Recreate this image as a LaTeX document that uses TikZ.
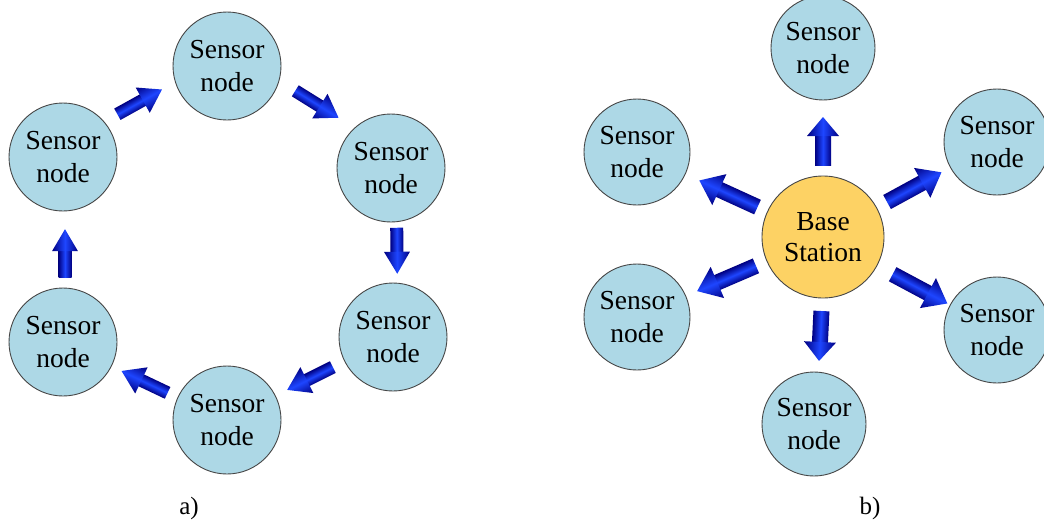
\documentclass[tikz,border=0pt]{standalone}
\usepackage{fontspec}
\setmainfont{Liberation Serif}
\usetikzlibrary{calc}

\definecolor{nodeblue}{RGB}{173,216,230}
\definecolor{stationgold}{RGB}{253,210,100}
\definecolor{nodeline}{RGB}{70,70,70}
\definecolor{arrowdark}{RGB}{0,0,130}
\definecolor{arrowlight}{RGB}{30,70,255}

\tikzset{
  sensor/.style={circle, draw=nodeline, line width=0.9pt, fill=nodeblue,
    minimum size=#1, inner sep=0pt, align=center,
    font=\fontsize{27.5}{32.5}\selectfont},
  sensor/.default=108pt,
  station/.style={sensor=122pt, fill=stationgold,
    font=\fontsize{27.5}{31}\selectfont},
  caption/.style={font=\fontsize{25}{28}\selectfont, inner sep=0pt},
  shaftshade/.style={top color=arrowdark, bottom color=arrowdark, middle color=arrowlight},
}

% Block arrow placed on the line from node #1 to node #2.
% #3 position along the line (fraction or distance), #4 sideways offset,
% #5 total length, #6 shaft half width, #7 head half width, #8 head length
\newcommand\flowarrow[8]{%
  \coordinate (fc) at ($(#1)!#3!(#2)!#4!90:(#2)$);
  \pgfmathanglebetweenpoints{\pgfpointanchor{#1}{center}}{\pgfpointanchor{#2}{center}}%
  \global\let\flowang\pgfmathresult
  \begin{scope}[transform canvas={shift={(fc)}, rotate=\flowang}]
    \shade[shaftshade]
      (-#5/2, -#6) rectangle (#5/2-#8+0.6pt, #6);
    \shade[shaftshade]
      (#5/2-#8, #7) -- (#5/2, 0pt) -- (#5/2-#8, -#7) -- cycle;
  \end{scope}
}

\begin{document}
\begin{tikzpicture}[x=1pt, y=-1pt]
  \useasboundingbox (0,0) rectangle (1044,522);

  % ring of sensor nodes
  \node[sensor] (a1) at (63,157)  {Sensor\\node};
  \node[sensor] (a2) at (227,66)  {Sensor\\node};
  \node[sensor] (a3) at (391,168) {Sensor\\node};
  \node[sensor] (a4) at (393,337) {Sensor\\node};
  \node[sensor] (a5) at (227,420) {Sensor\\node};
  \node[sensor] (a6) at (63,342)  {Sensor\\node};

  \flowarrow{a1}{a2}{0.5}{11pt}{51pt}{6.5pt}{14.5pt}{22pt}
  \flowarrow{a2}{a3}{0.5}{15pt}{51pt}{6.5pt}{14.5pt}{22pt}
  \flowarrow{a3}{a4}{0.49}{5pt}{46pt}{6.5pt}{13pt}{22pt}
  \flowarrow{a4}{a5}{0.5}{0pt}{51pt}{6.5pt}{14.5pt}{22pt}
  \flowarrow{a5}{a6}{0.5}{1pt}{51pt}{6.5pt}{14.5pt}{22pt}
  \flowarrow{a6}{a1}{0.48}{-2pt}{48pt}{6.5pt}{13pt}{22pt}

  % star around the base station
  \node[station] (bs) at (823,237) {Base\\Station};
  \node[sensor=104pt] (b1) at (823,48)  {Sensor\\node};
  \node[sensor=106pt] (b2) at (997,142) {Sensor\\node};
  \node[sensor=106pt] (b3) at (997,330) {Sensor\\node};
  \node[sensor=104pt] (b4) at (814,424) {Sensor\\node};
  \node[sensor=106pt] (b5) at (637,317) {Sensor\\node};
  \node[sensor=106pt] (b6) at (637,152) {Sensor\\node};

  \flowarrow{bs}{b1}{96pt}{0pt}{48pt}{8pt}{16pt}{19pt}
  \flowarrow{bs}{b2}{104pt}{0pt}{62pt}{8pt}{17pt}{22pt}
  \flowarrow{bs}{b3}{110pt}{0pt}{62pt}{8pt}{17pt}{22pt}
  \flowarrow{bs}{b4}{99pt}{2pt}{50pt}{8pt}{16pt}{19pt}
  \flowarrow{bs}{b5}{105pt}{0pt}{64pt}{8pt}{17pt}{22pt}
  \flowarrow{bs}{b6}{104pt}{0pt}{64pt}{8pt}{17pt}{22pt}

  \node[caption] (capa) at (189,508) {a)};
  \node[caption] (capb) at (870,508) {b)};
\end{tikzpicture}
\end{document}
